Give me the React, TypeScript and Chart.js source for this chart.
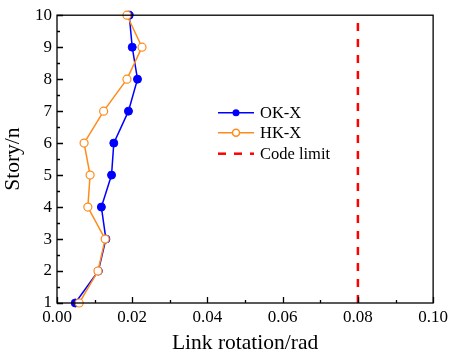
import React, { useEffect, useRef } from "react";
import { Chart, registerables } from "chart.js";
Chart.register(...registerables);

const stories = [1, 2, 3, 4, 5, 6, 7, 8, 9, 10];
const okX = [0.00485, 0.011, 0.013, 0.0118, 0.0145, 0.0151, 0.019, 0.0214, 0.02, 0.0192];
const hkX = [0.0059, 0.0109, 0.0128, 0.0082, 0.0088, 0.0072, 0.0124, 0.0186, 0.0226, 0.0186];
const codeLimit = 0.08;
const seriesNames = ["OK-X", "HK-X", "Code limit"];
const xMin = 0, xMax = 0.1, xStep = 0.02, xMinor = 0.01;
const yMin = 1, yMax = 10, yStep = 1, yMinor = 0.5;

const FONT = "'Liberation Serif', 'Times New Roman', serif";
const BLUE = "#0000ff";
const ORANGE = "#ff8c1a";
const RED = "#ff0000";

const framePlugin = {
  id: "frame",
  afterDraw(chart: any) {
    const { ctx, chartArea: a, scales } = chart;
    const xs = scales.x, ys = scales.y;
    ctx.save();
    ctx.strokeStyle = "#000";
    ctx.lineWidth = 1.3;
    ctx.strokeRect(a.left, a.top, a.right - a.left, a.bottom - a.top);
    ctx.beginPath();
    for (let v = xMin; v <= xMax + 1e-9; v += xMinor) {
      const px = Math.round(xs.getPixelForValue(v)) + 0.5;
      const major = Math.abs(v / xStep - Math.round(v / xStep)) < 1e-6;
      const len = major ? 6 : 3;
      ctx.moveTo(px, a.bottom);
      ctx.lineTo(px, a.bottom - len);
    }
    for (let v = yMin; v <= yMax + 1e-9; v += yMinor) {
      const py = Math.round(ys.getPixelForValue(v)) + 0.5;
      const major = Math.abs(v / yStep - Math.round(v / yStep)) < 1e-6;
      const len = major ? 6 : 3;
      ctx.moveTo(a.left, py);
      ctx.lineTo(a.left + len, py);
    }
    ctx.stroke();

    // legend
    const lx0 = a.left + 161, lx1 = a.left + 197, tx = a.left + 203;
    const rows = [a.top + 97.5, a.top + 117.5, a.top + 138.5];
    ctx.font = `16.5px ${FONT}`;
    ctx.textBaseline = "middle";
    ctx.fillStyle = "#000";
    ctx.strokeStyle = BLUE; ctx.lineWidth = 1.5; ctx.setLineDash([]);
    ctx.beginPath(); ctx.moveTo(lx0, rows[0]); ctx.lineTo(lx1, rows[0]); ctx.stroke();
    ctx.fillStyle = BLUE; ctx.beginPath(); ctx.arc((lx0 + lx1) / 2, rows[0], 3.5, 0, Math.PI * 2); ctx.fill();
    ctx.strokeStyle = ORANGE;
    ctx.beginPath(); ctx.moveTo(lx0, rows[1]); ctx.lineTo(lx1, rows[1]); ctx.stroke();
    ctx.fillStyle = "#fff"; ctx.beginPath(); ctx.arc((lx0 + lx1) / 2, rows[1], 3.5, 0, Math.PI * 2); ctx.fill(); ctx.stroke();
    ctx.strokeStyle = RED; ctx.lineWidth = 2.5; ctx.setLineDash([8, 8]);
    ctx.beginPath(); ctx.moveTo(lx0, rows[2]); ctx.lineTo(lx1, rows[2]); ctx.stroke();
    ctx.setLineDash([]);
    ctx.fillStyle = "#000";
    seriesNames.forEach((n, i) => ctx.fillText(n, tx, rows[i] + 1));
    ctx.restore();
  },
};

export default function App() {
  const ref = useRef<HTMLCanvasElement>(null);
  useEffect(() => {
    document.body.style.margin = "0";
    const chart = new Chart(ref.current!, {
      type: "line",
      data: {
        datasets: [
          {
            label: seriesNames[2],
            data: [{ x: codeLimit, y: yMin }, { x: codeLimit, y: yMax }],
            borderColor: RED,
            borderWidth: 2.5,
            borderDash: [8, 8],
            pointRadius: 0,
            order: 2,
          },
          {
            label: seriesNames[0],
            data: stories.map((s, i) => ({ x: okX[i], y: s })),
            borderColor: BLUE,
            backgroundColor: BLUE,
            borderWidth: 1.5,
            pointRadius: 4,
            pointBorderWidth: 1,
            order: 1,
          },
          {
            label: seriesNames[1],
            data: stories.map((s, i) => ({ x: hkX[i], y: s })),
            borderColor: ORANGE,
            backgroundColor: "#fff",
            pointBackgroundColor: "#fff",
            borderWidth: 1.5,
            pointRadius: 4,
            pointBorderWidth: 1.2,
            order: 0,
          },
        ],
      } as any,
      options: {
        animation: false,
        responsive: false,
        clip: false as any,
        layout: { padding: { top: 15, right: 15, left: 0, bottom: 0 } },
        plugins: { legend: { display: false }, tooltip: { enabled: false } },
        scales: {
          x: {
            type: "linear",
            min: xMin,
            max: xMax,
            grid: { display: false, drawTicks: false },
            border: { display: false },
            ticks: {
              stepSize: xStep,
              padding: 4,
              color: "#000",
              font: { family: FONT, size: 17 },
              callback: (v: any) => Number(v).toFixed(2),
            },
            title: {
              display: true,
              text: "Link rotation/rad",
              color: "#000",
              font: { family: FONT, size: 21.5 },
              padding: { top: 0, bottom: -4 },
            },
            afterFit: (s: any) => { s.height = 49; },
          },
          y: {
            type: "linear",
            min: yMin,
            max: yMax,
            grid: { display: false, drawTicks: false },
            border: { display: false },
            ticks: {
              stepSize: yStep,
              padding: 5,
              color: "#000",
              font: { family: FONT, size: 17 },
            },
            title: {
              display: true,
              text: "Story/n",
              color: "#000",
              font: { family: FONT, size: 21.5 },
              padding: { top: 0, bottom: 0 },
            },
            afterFit: (s: any) => { s.width = 57; },
          },
        },
      },
      plugins: [framePlugin],
    });
    return () => chart.destroy();
  }, []);
  return (
    <div style={{ width: 452, height: 352, background: "#fff" }}>
      <canvas ref={ref} width={452} height={352} style={{ display: "block" }} />
    </div>
  );
}
